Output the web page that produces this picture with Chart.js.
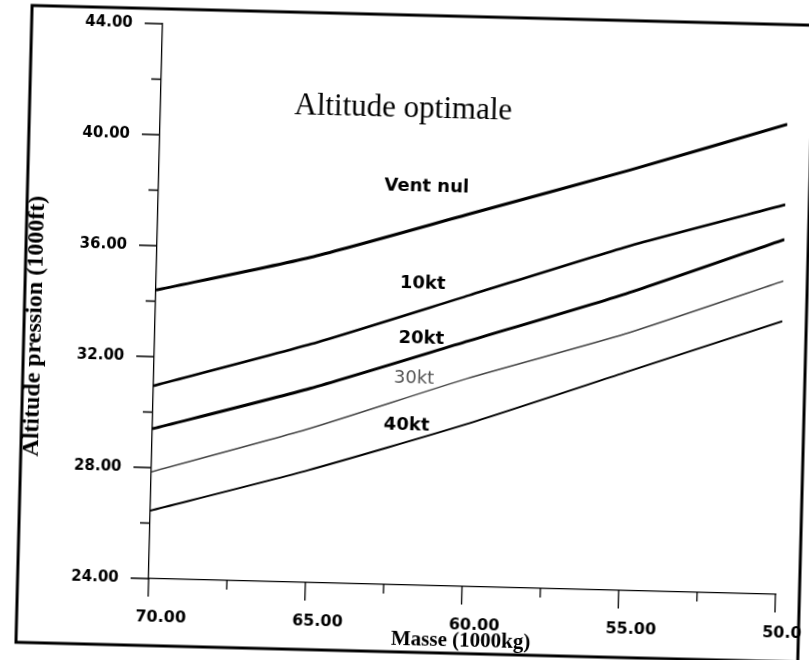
<!DOCTYPE html>
<html>
<head>
<meta charset="utf-8">
<script src="https://cdn.jsdelivr.net/npm/chart.js@4/dist/chart.umd.min.js"></script>
<style>
  html, body { margin: 0; padding: 0; background: #fff; overflow: hidden; }
  /* the scanned page sits a little crooked */
  #wrap { width: 809px; height: 660px; transform: rotate(1.45deg); transform-origin: 50% 50%; }
</style>
</head>
<body>
<div id="wrap"><canvas id="chart" width="809" height="660"></canvas></div>
<script>
// Masse (1000kg) -> altitude pression (1000ft)
const masses = [70, 65, 60, 55, 50];
const ventNul = [34.4, 35.75, 37.45, 39.15, 40.95];
const vent10 = [30.95, 32.6, 34.5, 36.4, 38.05];
const vent20 = [29.4, 31.0, 32.85, 34.7, 36.8];
const vent30 = [27.85, 29.55, 31.5, 33.25, 35.3];
const vent40 = [26.45, 28.05, 29.85, 31.85, 33.85];

const seriesNames = ['Vent nul', '10kt', '20kt', '30kt', '40kt'];
// where each curve's name is written (masse, altitude)
const labelMasses = [61.45, 61.5, 61.5, 61.7, 61.9];
const labelAlts = [38.35, 34.88, 32.89, 31.44, 29.74];

const chartTitle = 'Altitude optimale';
const titleAt = [62.26, 41.17];
const yAxisTitle = 'Altitude pression (1000ft)';

const xMin = 50, xMax = 70, xStep = 2.5, xMajor = 5;
const yMin = 24, yMax = 44, yStep = 2, yMajor = 4;

function pts(arr) {
  return masses.map((m, i) => ({ x: m, y: arr[i] }));
}

// tick marks of two lengths, frame, curve names, titles
const decorations = {
  id: 'decorations',
  afterDraw(chart) {
    const ctx = chart.ctx;
    const xs = chart.scales.x, ys = chart.scales.y;
    const area = chart.chartArea;
    ctx.save();
    ctx.strokeStyle = '#000';
    ctx.lineWidth = 1.3;
    ctx.beginPath();
    for (let v = xMin; v <= xMax + 0.001; v += xStep) {
      const px = xs.getPixelForValue(v);
      const len = (v % xMajor === 0) ? 18 : 9;
      ctx.moveTo(px, area.bottom);
      ctx.lineTo(px, area.bottom + len);
    }
    for (let v = yMin; v <= yMax + 0.001; v += yStep) {
      const py = ys.getPixelForValue(v);
      const len = ((v - yMin) % yMajor === 0) ? 18 : 10;
      ctx.moveTo(area.left, py);
      ctx.lineTo(area.left - len, py);
    }
    ctx.stroke();

    // page frame
    ctx.lineWidth = 3;
    ctx.strokeRect(24, 15, 782, 637);

    // curve names
    ctx.textAlign = 'center';
    ctx.textBaseline = 'middle';
    seriesNames.forEach((name, i) => {
      ctx.font = (i === 3 ? '' : 'bold ') + '18px "DejaVu Sans"';
      ctx.fillStyle = i === 3 ? '#555' : '#000';
      ctx.fillText(name, xs.getPixelForValue(labelMasses[i]), ys.getPixelForValue(labelAlts[i]));
    });

    ctx.fillStyle = '#000';
    ctx.font = '31px "Liberation Serif"';
    ctx.fillText(chartTitle, xs.getPixelForValue(titleAt[0]), ys.getPixelForValue(titleAt[1]));

    // y axis title sits a bit below the middle of the axis
    ctx.font = 'bold 24px "Liberation Serif"';
    ctx.translate(35, (area.top + area.bottom) / 2 + 28);
    ctx.rotate(-Math.PI / 2);
    ctx.fillText(yAxisTitle, 0, 0);
    ctx.restore();
  }
};

new Chart(document.getElementById('chart'), {
  type: 'line',
  data: {
    datasets: [
      { label: 'Vent nul', data: pts(ventNul), borderColor: '#000', borderWidth: 3 },
      { label: '10kt', data: pts(vent10), borderColor: '#000', borderWidth: 2.6 },
      { label: '20kt', data: pts(vent20), borderColor: '#000', borderWidth: 3 },
      { label: '30kt', data: pts(vent30), borderColor: '#444', borderWidth: 1.5 },
      { label: '40kt', data: pts(vent40), borderColor: '#000', borderWidth: 2 }
    ]
  },
  options: {
    responsive: false,
    animation: false,
    layout: { padding: { left: 0, top: 30, right: 27, bottom: 0 } },
    elements: {
      point: { radius: 0 },
      line: { tension: 0.2, fill: false }
    },
    plugins: {
      legend: { display: false },
      tooltip: { enabled: false }
    },
    scales: {
      x: {
        type: 'linear',
        reverse: true,
        min: xMin,
        max: xMax,
        afterFit(scale) { scale.height = 75; scale.paddingLeft = 0; scale.paddingRight = 0; },
        border: { display: true, color: '#000', width: 1.3 },
        grid: { drawOnChartArea: false, drawTicks: false },
        ticks: {
          stepSize: xStep,
          autoSkip: false,
          maxRotation: 0,
          padding: 29,
          labelOffset: 13,
          color: '#000',
          font: { family: 'DejaVu Sans', size: 16, weight: 'bold' },
          callback: v => (v % xMajor === 0 ? v.toFixed(2) : '')
        },
        title: {
          display: true,
          text: 'Masse (1000kg)',
          color: '#000',
          font: { family: 'Liberation Serif', size: 21, weight: 'bold' },
          padding: { top: 0, bottom: 8 }
        }
      },
      y: {
        min: yMin,
        max: yMax,
        afterFit(scale) { scale.width = 155; scale.paddingTop = 0; scale.paddingBottom = 0; },
        border: { display: true, color: '#000', width: 1.3 },
        grid: { drawOnChartArea: false, drawTicks: false },
        ticks: {
          stepSize: yStep,
          autoSkip: false,
          padding: 30,
          color: '#000',
          font: { family: 'DejaVu Sans', size: 15, weight: 'bold' },
          callback: v => ((v - yMin) % yMajor === 0 ? v.toFixed(2) : '')
        }
      }
    }
  },
  plugins: [decorations]
});
</script>
</body>
</html>
